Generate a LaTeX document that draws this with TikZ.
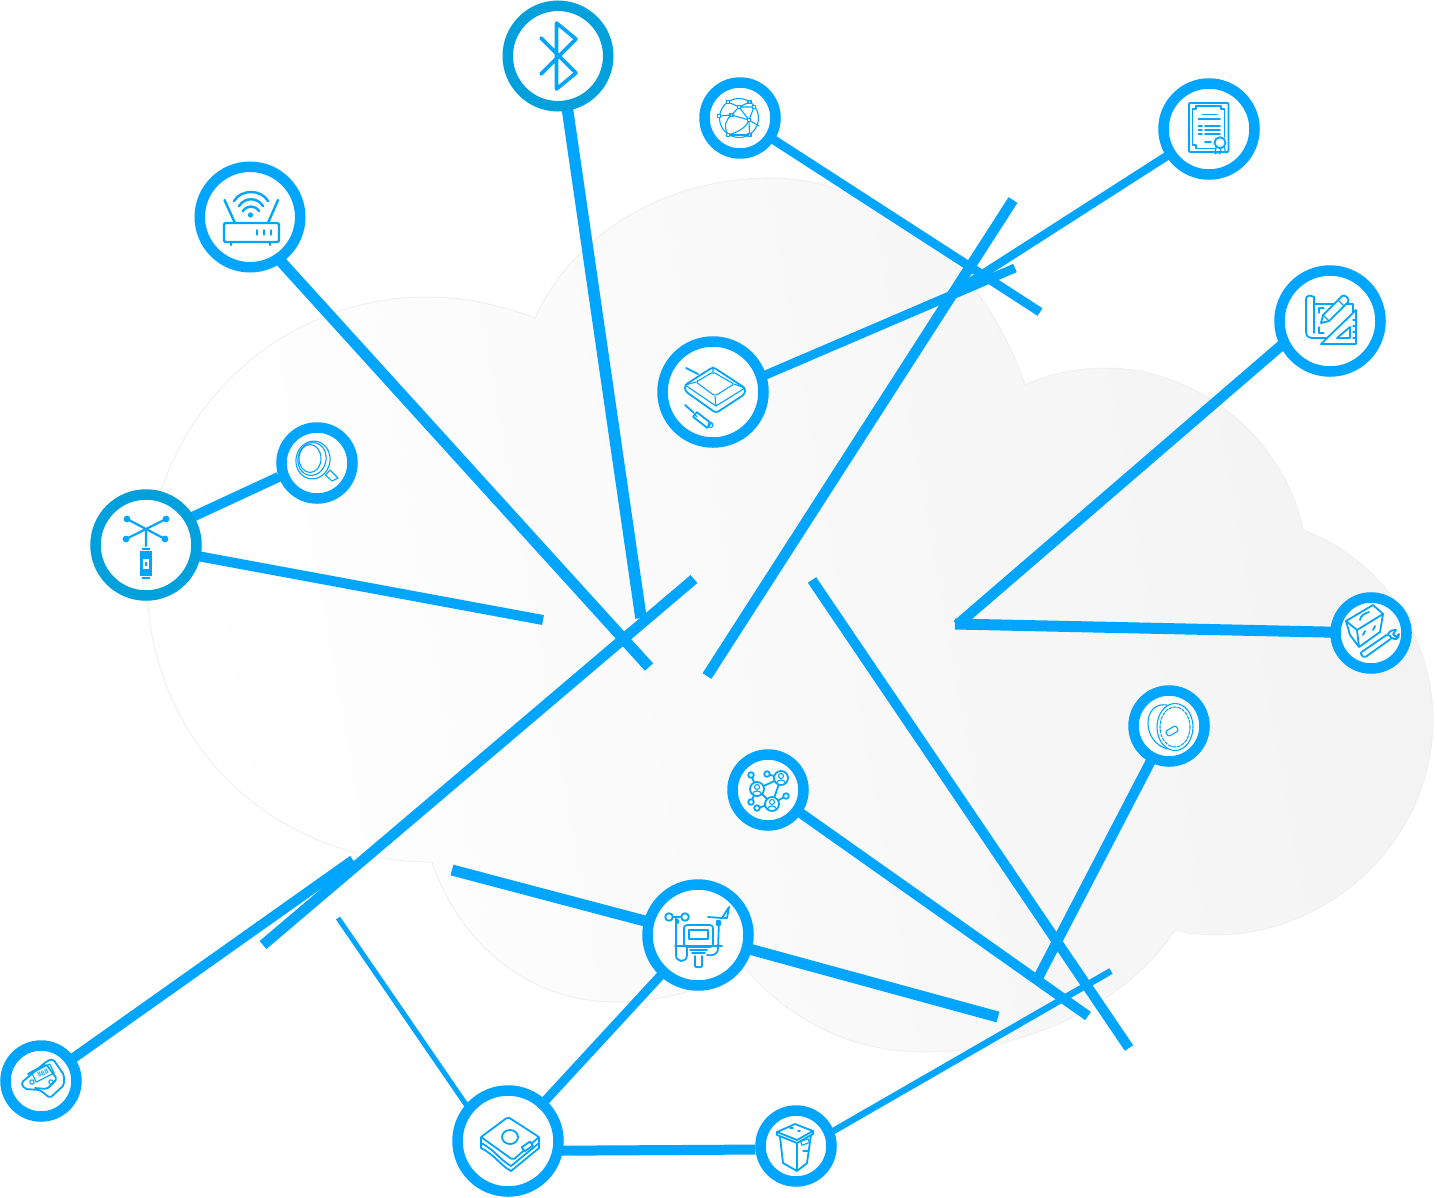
\documentclass[tikz,border=0pt]{standalone}
\usetikzlibrary{calc}
\definecolor{cy}{HTML}{00A5FF}
\definecolor{cyd}{HTML}{00A0DC}
\definecolor{cloudR}{HTML}{F3F3F4}
\definecolor{cloudE}{HTML}{F0F0F0}
\pgfdeclarelayer{back}
\pgfsetlayers{back,main}
\tikzset{
  hub/.style={circle,draw=cy,fill=white,line width=10.5pt,inner sep=0pt,minimum size=#1},
  conn/.style={draw=cy,line width=#1,line cap=butt,shorten <=-5pt},
  free/.style={draw=cy,line width=#1,line cap=butt},
  ic/.style={draw=cy,line width=1.8pt,line join=round,line cap=round},
  icb/.style={draw=cy,line width=3.6pt,line join=round,line cap=round},
  ict/.style={draw=cy,line width=1.1pt,line join=round,line cap=round},
}
\begin{document}
\begin{tikzpicture}[x=1pt,y=-1pt]
\useasboundingbox (0,0) rectangle (1437,1197);
% cloud
\begin{pgfonlayer}{back}
\path[draw=cloudE,line width=1pt,left color=white,right color=cloudR,shading angle=100]
 (535,318) .. controls (575,230) and (670,178) .. (770,178)
 .. controls (880,178) and (985,265) .. (1025,385)
 .. controls (1050,373) and (1080,368) .. (1105,368)
 .. controls (1200,368) and (1285,440) .. (1303,530)
 .. controls (1385,560) and (1433,640) .. (1433,720)
 .. controls (1433,840) and (1330,935) .. (1215,935)
 .. controls (1200,935) and (1188,933) .. (1175,930)
 .. controls (1130,1000) and (1030,1052) .. (925,1052)
 .. controls (850,1052) and (790,1020) .. (745,968)
 .. controls (705,990) and (660,1002) .. (615,1002)
 .. controls (530,1002) and (460,945) .. (432,862)
 .. controls (270,862) and (147,740) .. (147,580)
 .. controls (147,425) and (270,297) .. (428,297)
 .. controls (465,297) and (500,305) .. (535,318) -- cycle;
\end{pgfonlayer}
% hubs
\node[hub=100.5pt,draw=cyd] (bt) at (558,56) {};
\node[hub=100.5pt] (router) at (250,217) {};
\node[hub=71pt] (globe) at (740,118) {};
\node[hub=91pt] (cert) at (1209,129) {};
\node[hub=101pt] (gps) at (713,392) {};
\node[hub=101pt] (print) at (1330,321) {};
\node[hub=71pt] (lens) at (317,463) {};
\node[hub=101pt,draw=cyd] (sensor) at (146,545) {};
\node[hub=71pt] (tool) at (1371,633) {};
\node[hub=71pt] (disc) at (1169,726) {};
\node[hub=71pt] (people) at (768,790) {};
\node[hub=101pt] (weather) at (698,935) {};
\node[hub=71pt] (meter) at (41,1081) {};
\node[hub=101pt] (box) at (508,1141) {};
\node[hub=71pt] (bin) at (796,1146) {};
% free ends
\coordinate (eBt) at (641,618);
\coordinate (eRouter) at (649,667);
\coordinate (eGlobe) at (1040,312);
\coordinate (eCert) at (950,295);
\coordinate (eGps) at (1015,268);
\coordinate (eA1) at (1013,200);
\coordinate (eA2) at (707,676);
\coordinate (ePrint) at (957,625);
\coordinate (eTool) at (955,624);
\coordinate (eSensor) at (543,620);
\coordinate (eB1) at (694,579);
\coordinate (eB2) at (263,945);
\coordinate (eMeter) at (353,860);
\coordinate (eW1) at (452,870);
\coordinate (eW2) at (998,1017);
\coordinate (eC1) at (812,580);
\coordinate (eC2) at (1129,1048);
\coordinate (ePeople) at (1088,1016);
\coordinate (eDisc) at (1037,980);
\coordinate (eBin) at (1111,971);
\coordinate (eBox) at (338,918);
% connectors
\begin{pgfonlayer}{back}
\draw[conn=11.5pt] (bt.280) -- (eBt);
\draw[conn=11pt] (router.-55) -- (eRouter);
\draw[conn=9pt] (globe.center) -- (eGlobe);
\draw[conn=8.5pt] (cert.center) -- (eCert);
\draw[conn=9pt] (gps.18) -- (eGps);
\draw[free=10.5pt] (eA1) -- (eA2);
\draw[conn=10.5pt] (print.207) -- (ePrint);
\draw[conn=11pt] (tool.center) -- (eTool);
\draw[conn=10pt] (sensor.-12) -- (eSensor);
\draw[conn=10pt] (sensor.31) -- (lens.200);
\draw[free=10.5pt] (eB1) -- (eB2);
\draw[conn=10pt] (meter.center) -- (eMeter);
\draw[conn=11pt] (weather.center) -- (eW1);
\draw[conn=11pt] (weather.center) -- (eW2);
\draw[free=10pt] (eC1) -- (eC2);
\draw[conn=10pt] (people.center) -- (ePeople);
\draw[conn=10pt] (disc.center) -- (eDisc);
\draw[conn=6.5pt] (bin.22) -- (eBin);
\draw[conn=10pt] (box.-10) -- (bin.185);
\draw[conn=9pt] (box.center) -- (weather.center);
\draw[conn=5pt] (box.139) -- (eBox);
\end{pgfonlayer}
% bluetooth
\draw[icb] (541,38) -- (576,73) -- (556.5,89) -- (556.5,23) -- (576,39) -- (541,74);
% router
\draw[ic,line width=2.4pt,rounded corners=2pt] (224,223) rectangle (279,242);
\draw[ic,line width=2.4pt] (224.5,200) -- (235,223) (278,200) -- (268,223) (231,242) -- (231,245) (270,242) -- (270,245);
\draw[ic,line width=2.4pt] (234,201) .. controls (241,189) and (261,189) .. (268,201);
\draw[ic,line width=2.4pt] (239,206) .. controls (245,197) and (257,197) .. (263,206);
\draw[ic,line width=2.4pt] (243,211) .. controls (247,205) and (255,205) .. (259,211);
\fill[cy] (250.5,215) circle[radius=2.6];
\draw[ic,line width=2.8pt] (257,230.5) -- (257,234.5) (264,230.5) -- (264,234.5) (271,230.5) -- (271,234.5);
% globe
\draw[ict] (739,118) circle[radius=19.5];
\draw[ict] (728,102) -- (739,107) -- (749.5,102) (739,107) -- (754,107) (719,116) -- (731.5,115) -- (739,107) -- (749,120) -- (731.5,115)
 (749,120) -- (754,107) (749,120) -- (749.5,135) (749,120) -- (759,126);
\draw[ict] (728,135) .. controls (723,125) and (726,120) .. (731.5,115);
\draw[ict] (728,135) .. controls (738,132) and (746,128) .. (749,120);
\draw[ict] (728,135) -- (749.5,135);
\draw[ict,fill=white] (726.5,100.5) rectangle (729.5,103.5) (748,100.5) rectangle (751,103.5) (737.5,105.5) rectangle (740.5,108.5)
 (752.5,105.5) rectangle (755.5,108.5) (717.5,114.5) rectangle (720.5,117.5) (730,113.5) rectangle (733,116.5)
 (747.5,118.5) rectangle (750.5,121.5) (726.5,133.5) rectangle (729.5,136.5) (748,133.5) rectangle (751,136.5);
% certificate
\draw[ic,rounded corners=1pt] (1189,103) rectangle (1228.5,152);
\draw[ict] (1224.5,137) -- (1224.5,109) -- (1221,109) -- (1221,106) -- (1196,106) -- (1196,109) -- (1192.5,109) -- (1192.5,145) -- (1196,145) -- (1196,148.5) -- (1216,148.5);
\draw[ic] (1202.5,114.5) -- (1217,114.5) (1198.5,119) -- (1220,119)
 (1198.5,126) -- (1202,126) (1205,126) -- (1220,126) (1198.5,130) -- (1202,130) (1205,130) -- (1220,130)
 (1198.5,134) -- (1202,134) (1205,134) -- (1220,134) (1205,141.7) -- (1211,141.7);
\draw[ict] (1216,147) -- (1215,154) -- (1218,152) -- (1220,154) -- (1221,148) (1224,147) -- (1226,153) -- (1223,152);
\draw[ic,fill=white] (1220,142.7) circle[radius=5.5];
% blueprint
\draw[ic] (1314,304) -- (1353,304) -- (1353,312) (1326,338) -- (1314,338);
\draw[ic] (1314,333) -- (1314,297) .. controls (1311,295) and (1306,295) .. (1306,299) -- (1306,332) .. controls (1306,338) and (1311,338) .. (1314,338);
\draw[ict] (1319,308) -- (1319,313) (1319,308) -- (1324,308) (1319,327) -- (1319,333) -- (1324,333);
\draw[ic,fill=white] (1356,310) -- (1356,344) -- (1321,344) -- cycle;
\draw[ic] (1350,327) -- (1350,338) -- (1337,338) -- cycle;
\draw[ic,fill=white] (1321,323) -- (1323,315) -- (1342,296) .. controls (1345,294) and (1350,299) .. (1348,302) -- (1329,321) -- cycle;
\draw[ict] (1338,300) -- (1344,306) (1323,315) -- (1329,321);
\draw[ict] (1353,320) -- (1356,320) (1353,326) -- (1356,326) (1353,332) -- (1356,332) (1353,338) -- (1356,338);
% sensor
\draw[ic,line width=2.2pt] (127,519) -- (165,539) (166,519) -- (126,539) (146,529) -- (146,546);
\fill[cy] (127,519) circle[radius=3.4] (166,519) circle[radius=3.4] (126,539) circle[radius=3.4] (165,539) circle[radius=3.4];
\fill[cy] (140,551) rectangle (151.5,576);
\fill[cy] (142,548) rectangle (149.5,550);
\fill[cy] (142,577) rectangle (149.5,579);
\fill[white] (142.5,559) rectangle (149,569);
\fill[cy] (144.5,562) rectangle (147,565.5);
% lens
\draw[ict] (310,458.5) circle[x radius=11,y radius=14];
\draw[ict,rotate around={-12:(312,459)}] (312,459) ellipse[x radius=14,y radius=16.5];
\draw[ict,rotate around={-12:(313,460)}] (313,460) ellipse[x radius=17,y radius=19];
\draw[ict,fill=white] (330,470) -- (338,478) -- (332,481) -- (325.5,475) -- cycle;
% gps
\draw[ic,rounded corners=3pt] (713,367) -- (745,388) -- (745,394) -- (716,413) -- (685,391) -- (685,385) -- cycle;
\draw[ict,rounded corners=2pt] (713,372) -- (734,384) -- (715,396) -- (696,382) -- cycle;
\draw[ict] (685,385) -- (716,406) -- (745,388) (715,396) -- (716,406) (696,382) -- (685,385) (734,384) -- (745,388) (713,367) -- (713,372);
\draw[ic] (686,368) -- (698,374);
\draw[ic] (685,405) -- (693,412);
\draw[ic,rotate around={-38:(702,420)}] (693,417) rectangle (711,423);
\draw[ict] (693,412) -- (697,417);
\draw[ict] (710.5,425) circle[radius=2.5];
% toolbox
\draw[ic] (1373,605) -- (1383,614) -- (1357,630) -- (1346,621) -- cycle;
\draw[ic] (1346,621) -- (1350,635) -- (1359,647) -- (1380,632) -- (1383,614) (1357,630) -- (1359,647);
\draw[ic] (1360,620) .. controls (1360,616) and (1365,613) .. (1369,612);
\draw[ic] (1363,635) -- (1365,631) (1373,630) -- (1375,626);
\draw[ic,rounded corners=2pt] (1360,653) -- (1388,634) -- (1392,638) -- (1364,658) -- cycle;
\draw[ic] (1388,634) .. controls (1390,630) and (1394,630) .. (1396,630) -- (1393,634) -- (1396,637) -- (1399,634) .. controls (1399,638) and (1396,641) .. (1392,638);
% disc
\draw[ict,dash pattern=on 3pt off 1.5pt] (1175,727) ellipse[x radius=15,y radius=20];
\draw[ict] (1175,727) ellipse[x radius=18,y radius=23.5];
\draw[ict] (1167,705) .. controls (1155,703) and (1148,712) .. (1148,723) .. controls (1148,735) and (1155,745) .. (1167,749);
\draw[ict,rounded corners=1.5pt,rotate around={30:(1172,731)}] (1166,728) rectangle (1178,734);
% people
\draw[ic] (751,775) -- (757,789) -- (781,778) -- (772,804) -- (757,789) (767,774) -- (781,778) (786,796) -- (772,804) (751,802) -- (757,789) (757,808) -- (772,804);
\foreach \px/\py in {757/789,781/778,772/804}{
  \draw[ic,fill=white] (\px,\py) circle[radius=7];
  \draw[ict] (\px,\py-2) circle[radius=2.5] (\px-4.5,\py+5) .. controls (\px-4,\py+1) and (\px+4,\py+1) .. (\px+4.5,\py+5);
}
\foreach \px/\py in {751/775,767/774,786/796,751/802,757/808}{
  \draw[ic,fill=white] (\px,\py) circle[radius=2.8];
}
% weather
\draw[ic,rounded corners=3pt] (684,925) rectangle (713,947);
\draw[ic] (689,930) rectangle (708,939);
\draw[ic] (675,946) -- (722,946) (690,950) -- (707,950) (692,953) -- (705,953);
\draw[ic,rounded corners=1pt] (695,956) -- (695,967) -- (702,967) -- (702,956);
\draw[ic] (669,917) -- (685,917);
\draw[ic,fill=white] (669,917) circle[radius=3.8] (685,917) circle[radius=3.8];
\draw[ic] (676,917) -- (676,955) .. controls (676,963) and (687,963) .. (687,955) -- (687,948);
\draw[ic] (719,921) -- (718,948) .. controls (718,955) and (712,956) .. (707,955);
\draw[ic] (708,917) -- (722,918) (722,918) -- (729,907) -- (727,918) -- cycle;
\draw[ic] (676,920) rectangle (678,923) (717,921) rectangle (720,925);
% meter
\draw[ic,rounded corners=2pt] (21,1083) -- (47,1061) -- (53,1059) -- (64,1075) -- (64,1085) -- (50,1098) -- (40,1090) -- (25,1089) -- cycle;
\draw[ic,rounded corners=2pt] (28,1074) -- (46,1064) -- (57,1079) -- (47,1089) -- (35,1088);
\draw[ict,rotate around={27:(43,1073)}] (33,1068) rectangle (53,1078);
\node[rotate=27,text=cy,font=\sffamily\bfseries\fontsize{7}{7}\selectfont,inner sep=0pt] (meterval) at (43,1073) {888};
\draw[ict] (32,1082) circle[radius=2.2] (51,1082) circle[radius=2.2];
% box
\draw[ic,rounded corners=2pt] (508,1117) -- (539,1137) -- (513,1160) -- (481,1137) -- cycle;
\draw[ic] (481,1137) -- (481,1148) .. controls (495,1155) and (500,1165) .. (511,1171) -- (539,1148) -- (539,1137);
\draw[ic] (481,1143) .. controls (495,1150) and (500,1160) .. (511,1166) -- (539,1143);
\draw[ic] (510,1137) ellipse[x radius=8,y radius=7];
\draw[ic,fill=white,rotate around={35:(527,1146)}] (522,1144) rectangle (532,1149);
% bin
\draw[ic] (795,1124) -- (813,1131) -- (797,1140) -- (777,1132) -- cycle;
\draw[ic] (777,1132) -- (777,1135) -- (797,1143) -- (813,1134) -- (813,1131);
\draw[ic] (780,1137) -- (783,1163) -- (797,1171) -- (807,1163) -- (811,1135) (797,1143) -- (797,1171);
\draw[ict,rotate around={20:(805,1142)}] (801,1140) rectangle (809,1144);
\draw[ict] (803,1151) -- (808,1151);
\draw[ic] (790,1128) -- (793,1128) (798,1131) -- (800,1131);
\end{tikzpicture}
\end{document}
